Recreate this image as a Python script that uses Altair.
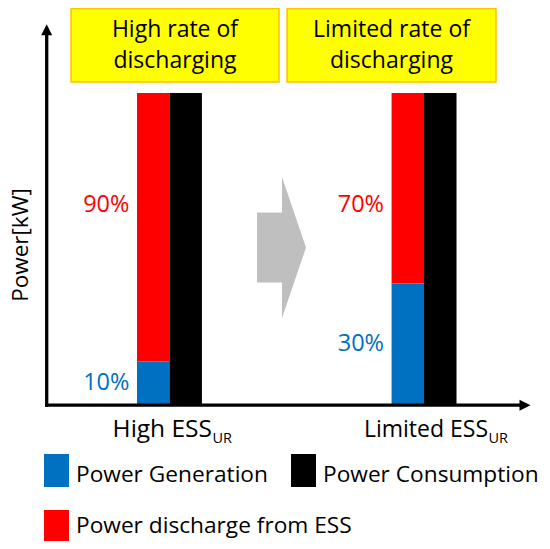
import altair as alt
import pandas as pd

# ---- data ----
categories = ["High ESS", "Limited ESS"]
subscript = "UR"
box_titles = ["High rate of\ndischarging", "Limited rate of\ndischarging"]
series = ["Power Generation", "Power Consumption", "Power discharge from ESS"]
colors = ["#0070C0", "#000000", "#FF0000"]
generation = [14, 39]        # drawn share of the bar (blue)
discharge = [86, 61]         # drawn share of the bar (red)
consumption = [100, 100]     # black bar
gen_labels = ["10%", "30%"]
dis_labels = ["90%", "70%"]
y_title = "Power[kW]"

FONT = "Open Sans"

rows = []
for i, c in enumerate(categories):
    rows.append(dict(cat=c, series=series[0], slot="supply", y0=0, y1=generation[i]))
    rows.append(dict(cat=c, series=series[2], slot="supply",
                     y0=generation[i], y1=generation[i] + discharge[i]))
    rows.append(dict(cat=c, series=series[1], slot="demand", y0=0, y1=consumption[i]))
bars_df = pd.DataFrame(rows)

lab_df = pd.DataFrame({
    "cat": categories,
    "gen_lab": gen_labels,
    "dis_lab": dis_labels,
    "gen_mid": [g / 2 for g in generation],
})

one = pd.DataFrame({"k": [0]})

xscale = alt.Scale(domain=categories, range=[129, 448.5], paddingInner=0.745, paddingOuter=0)
yscale = alt.Scale(domain=[0, 100], range=[397.2, 85], nice=False, zero=True)
cscale = alt.Scale(domain=series, range=colors)

X = alt.X("cat:N", scale=xscale, axis=None)

bars = alt.Chart(bars_df).mark_bar().encode(
    x=X,
    xOffset=alt.XOffset("slot:N", scale=alt.Scale(domain=["supply", "demand"],
                                                   paddingInner=0, paddingOuter=0)),
    y=alt.Y("y0:Q", scale=yscale, axis=None),
    y2="y1:Q",
    color=alt.Color("series:N", scale=cscale, legend=None),
)

blue_labels = alt.Chart(lab_df).mark_text(
    align="right", baseline="middle", dx=-40, font=FONT, fontSize=23.5, color="#0070C0"
).encode(x=X, y=alt.Y("gen_mid:Q", scale=yscale), text="gen_lab:N")

red_labels = alt.Chart(lab_df).mark_text(
    align="right", baseline="middle", dx=-40, font=FONT, fontSize=23.5, color="#FF0000"
).encode(x=X, y=alt.datum(64), text="dis_lab:N")

# axes with arrow heads
y_axis = alt.Chart(one).mark_rule(color="black", strokeWidth=3.3).encode(
    x=alt.value(38.7), y=alt.value(398.8), y2=alt.value(26))
x_axis = alt.Chart(one).mark_rule(color="black", strokeWidth=3.3).encode(
    x=alt.value(37), x2=alt.value(512), y=alt.value(397.2))
y_head = alt.Chart(one).mark_point(
    shape="M0,-1L1,1L-1,1Z", size=121, filled=True, color="black", opacity=1, strokeWidth=0
).encode(x=alt.value(38.7), y=alt.value(21.8))
x_head = alt.Chart(one).mark_point(
    shape="M1,0L-1,1L-1,-1Z", size=121, filled=True, color="black", opacity=1, strokeWidth=0
).encode(x=alt.value(517), y=alt.value(397.2))

y_label = alt.Chart(one).mark_text(
    text=y_title, angle=270, align="center", baseline="middle", font=FONT, fontSize=22.5,
    color="black"
).encode(x=alt.value(12.5), y=alt.value(237))

# grey block arrow between the two situations
grey_arrow = alt.Chart(one).mark_point(
    shape="M-0.3475,-0.4965L0.0071,-0.4965L0.0071,-1L0.3475,0L0.0071,1L0.0071,0.4965L-0.3475,0.4965Z",
    size=19881, filled=True, color="#BFBFBF", opacity=1, strokeWidth=0
).encode(x=alt.value(273.5), y=alt.value(239.5))

# yellow title boxes
box_specs = [(63, 271, 167), (279, 488, 383.5)]
boxes = []
for (x0, x1, xc), title in zip(box_specs, box_titles):
    boxes.append(alt.Chart(one).mark_rect(
        fill="#FFFF00", stroke="#FFC000", strokeWidth=1.5
    ).encode(x=alt.value(x0), x2=alt.value(x1), y=alt.value(0.5), y2=alt.value(74)))
    boxes.append(alt.Chart(one).mark_text(
        text=title, lineBreak="\n", lineHeight=31, align="center", baseline="alphabetic",
        font=FONT, fontSize=23, color="black"
    ).encode(x=alt.value(xc), y=alt.value(29)))

# category labels with subscript
cat_specs = [(204, 24.5), (480, 23)]
cat_text = []
for (xr, fs), name in zip(cat_specs, categories):
    cat_text.append(alt.Chart(one).mark_text(
        text=name, align="right", baseline="alphabetic", font=FONT, fontSize=fs, color="black"
    ).encode(x=alt.value(xr), y=alt.value(429)))
    cat_text.append(alt.Chart(one).mark_text(
        text=subscript, align="left", baseline="alphabetic", font=FONT, fontSize=14.5,
        color="black"
    ).encode(x=alt.value(xr + 0.5), y=alt.value(435)))

# legend (two entries on the first row, one on the second)
legend_slots = [(36, 446, 28), (283, 446, 28), (36, 502, 23)]  # swatch left / top, baseline offset
legend_layers = []
for (lx, ly, lb), name, col in zip(legend_slots, series, colors):
    legend_layers.append(alt.Chart(one).mark_rect(color=col).encode(
        x=alt.value(lx), x2=alt.value(lx + 25), y=alt.value(ly), y2=alt.value(ly + 33)))
    legend_layers.append(alt.Chart(one).mark_text(
        text=name, align="left", baseline="alphabetic", font=FONT, fontSize=22.7,
        color="black"
    ).encode(x=alt.value(lx + 32), y=alt.value(ly + lb)))

chart = alt.layer(
    *boxes, grey_arrow, bars, y_axis, x_axis, y_head, x_head,
    blue_labels, red_labels, y_label, *cat_text, *legend_layers
).properties(
    width=534, height=533, padding=0,
    autosize=alt.AutoSizeParams(type="none"),
    background="white",
).configure_view(stroke=None)

chart.save("out.html", embed_options={"renderer": "svg", "actions": False})
